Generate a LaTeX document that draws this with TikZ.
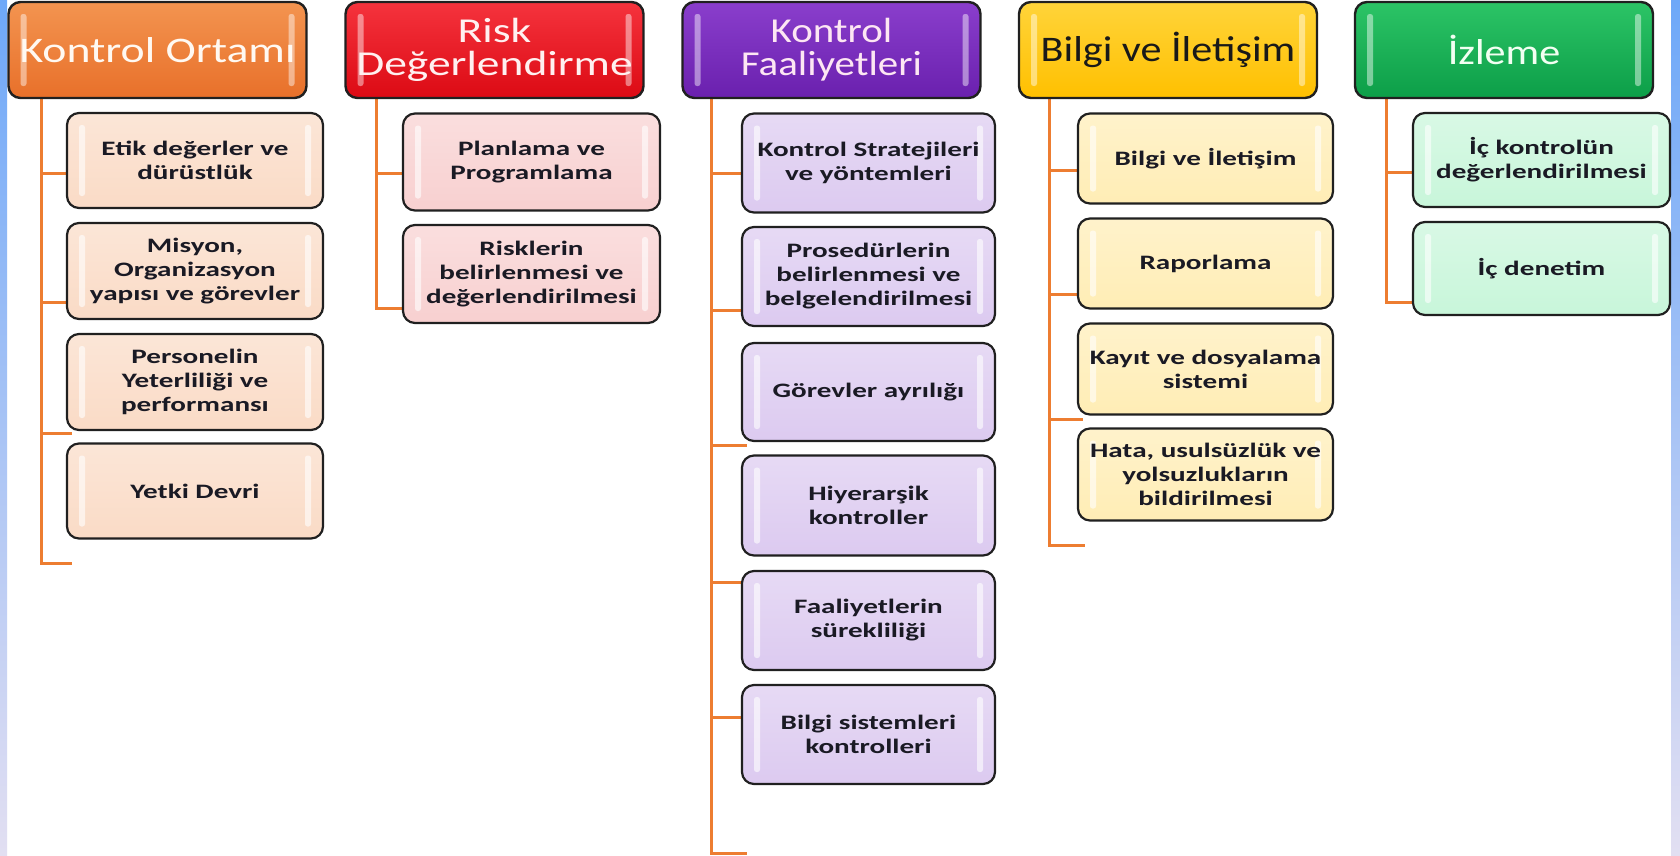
\documentclass[tikz,border=0pt]{standalone}
\usepackage{fontspec}
\setmainfont{Carlito}
\newfontfamily\hdfont[FakeStretch=1.17]{Carlito}
\newfontfamily\hdfontw[FakeStretch=1.3]{Carlito}
\newfontfamily\hdfonto[FakeStretch=1.27]{Carlito}
\newfontfamily\chfont[FakeStretch=1.42]{Carlito}
\definecolor{boxline}{HTML}{202020}
\definecolor{treeor}{HTML}{ED7D31}
\definecolor{txt}{HTML}{1A1A24}
\definecolor{stripA}{HTML}{6EA8F8}
\definecolor{stripB}{HTML}{E2DFF2}
\definecolor{oTop}{HTML}{F39450}
\definecolor{oBot}{HTML}{E8702A}
\definecolor{rTop}{HTML}{F5333D}
\definecolor{rBot}{HTML}{DC0A14}
\definecolor{pTop}{HTML}{8A3ECC}
\definecolor{pBot}{HTML}{6A20AE}
\definecolor{yTop}{HTML}{FFD43A}
\definecolor{yBot}{HTML}{FFC000}
\definecolor{gTop}{HTML}{2CC466}
\definecolor{gBot}{HTML}{0C9E48}
\definecolor{c1}{HTML}{FADBC6}
\definecolor{c2}{HTML}{F8D0D0}
\definecolor{c3}{HTML}{DCCAF0}
\definecolor{c4}{HTML}{FFEDB5}
\definecolor{c5}{HTML}{C8F6DA}
\pgfdeclarelayer{bgz}
\pgfdeclarelayer{lines}
\pgfsetlayers{bgz,lines,main}
\begin{document}
\begin{tikzpicture}[x=1pt,y=-1pt,
  glossbars/.style={path picture={
    \fill[white,opacity=#1,rounded corners=2.5pt] ([xshift=12pt,yshift=-12pt]path picture bounding box.north west) rectangle ([xshift=18pt,yshift=12pt]path picture bounding box.south west);
    \fill[white,opacity=#1,rounded corners=2.5pt] ([xshift=-18pt,yshift=-12pt]path picture bounding box.north east) rectangle ([xshift=-12pt,yshift=12pt]path picture bounding box.south east);}},
  hdr/.style={draw=boxline, line width=2.4pt, rounded corners=12pt, minimum width=298pt, minimum height=96pt, inner sep=1pt, align=center, font=\hdfont\fontsize{35}{33}\selectfont, glossbars=0.45},
  chd/.style={draw=boxline, line width=2.2pt, rounded corners=12pt, inner sep=2pt, align=center, font=\chfont\bfseries\fontsize{20.5}{24}\selectfont, text=txt, glossbars=0.6},
  col1/.style={chd, minimum width=256pt, top color=c1!70!white, bottom color=c1},
  col2/.style={chd, minimum width=257pt, top color=c2!70!white, bottom color=c2},
  col3/.style={chd, minimum width=253pt, top color=c3!70!white, bottom color=c3},
  col4/.style={chd, minimum width=255pt, top color=c4!70!white, bottom color=c4},
  col5/.style={chd, minimum width=257pt, top color=c5!70!white, bottom color=c5},
  tree/.style={draw=treeor, line width=3pt}]
\useasboundingbox (0,0) rectangle (1680,855);
\begin{pgfonlayer}{bgz}
  \fill[white] (0,0) rectangle (1680,855);
  \shade[top color=stripA, bottom color=stripB] (0,0) rectangle (7,855);
  \shade[top color=stripA, bottom color=stripB] (1671,0) rectangle (1680,855);
\end{pgfonlayer}

% headers
\node[hdr, top color=oTop, bottom color=oBot, text=white!95!orange, font=\hdfonto\fontsize{36}{33}\selectfont] (h1) at (157.5,50) {Kontrol Ortamı};
\node[hdr, top color=rTop, bottom color=rBot, text=white!94!red, font=\hdfontw\fontsize{35}{33}\selectfont] (h2) at (494.5,50) {Risk\\Değerlendirme};
\node[hdr, top color=pTop, bottom color=pBot, text=white!90!magenta] (h3) at (831.5,50) {Kontrol\\Faaliyetleri};
\node[hdr, top color=yTop, bottom color=yBot, text=black!90, font=\hdfont\fontsize{36}{33}\selectfont] (h4) at (1168,50) {Bilgi ve İletişim};
\node[hdr, top color=gTop, bottom color=gBot, text=white!95!green, font=\hdfont\fontsize{36}{33}\selectfont] (h5) at (1504,50) {İzleme};

% column 1
\node[col1, minimum height=95pt] (e1) at (195,160.5) {Etik değerler ve\\dürüstlük};
\node[col1, minimum height=96pt] (e2) at (195,271) {Misyon,\\Organizasyon\\yapısı ve görevler};
\node[col1, minimum height=96pt] (e3) at (195,382) {Personelin\\Yeterliliği ve\\performansı};
\node[col1, minimum height=95pt] (e4) at (195,491) {Yetki Devri};
% column 2
\node[col2, minimum height=97pt] (r1) at (531.5,162) {Planlama ve\\Programlama};
\node[col2, minimum height=98pt] (r2) at (531.5,274) {Risklerin\\belirlenmesi ve\\değerlendirilmesi};
% column 3
\node[col3, minimum height=99pt] (k1) at (868.5,163) {Kontrol Stratejileri\\ve yöntemleri};
\node[col3, minimum height=99pt] (k2) at (868.5,276.5) {Prosedürlerin\\belirlenmesi ve\\belgelendirilmesi};
\node[col3, minimum height=98pt] (k3) at (868.5,392) {Görevler ayrılığı};
\node[col3, minimum height=100pt] (k4) at (868.5,505.5) {Hiyerarşik\\kontroller};
\node[col3, minimum height=99pt] (k5) at (868.5,620.5) {Faaliyetlerin\\sürekliliği};
\node[col3, minimum height=99pt] (k6) at (868.5,734.5) {Bilgi sistemleri\\kontrolleri};
% column 4
\node[col4, minimum height=90pt] (b1) at (1205.5,158.5) {Bilgi ve İletişim};
\node[col4, minimum height=90pt] (b2) at (1205.5,263.5) {Raporlama};
\node[col4, minimum height=91pt] (b3) at (1205.5,369) {Kayıt ve dosyalama\\sistemi};
\node[col4, minimum height=92pt] (b4) at (1205.5,474.5) {Hata, usulsüzlük ve\\yolsuzlukların\\bildirilmesi};
% column 5
\node[col5, minimum height=94pt] (i1) at (1541.5,160) {İç kontrolün\\değerlendirilmesi};
\node[col5, minimum height=93pt] (i2) at (1541.5,268.5) {İç denetim};

% tree connectors
\coordinate (t1) at ([xshift=34pt]h1.south west);
\coordinate (t2) at ([xshift=32pt]h2.south west);
\coordinate (t3) at ([xshift=30pt]h3.south west);
\coordinate (t4) at ([xshift=32pt]h4.south west);
\coordinate (t5) at ([xshift=33pt]h5.south west);
\begin{pgfonlayer}{lines}
  \draw[tree] (t1) |- ([xshift=6pt]e4.west |- 0,563);
  \draw[tree] (t1 |- 0,173) -- ([xshift=6pt]e1.west |- 0,173);
  \draw[tree] (t1 |- 0,302) -- ([xshift=6pt]e2.west |- 0,302);
  \draw[tree] (t1 |- 0,433) -- ([xshift=6pt]e3.west |- 0,433);

  \draw[tree] (t2) |- ([xshift=6pt]r2.west |- 0,308);
  \draw[tree] (t2 |- 0,173) -- ([xshift=6pt]r1.west |- 0,173);

  \draw[tree] (t3) |- ([xshift=6pt]k6.west |- 0,853);
  \draw[tree] (t3 |- 0,173) -- ([xshift=6pt]k1.west |- 0,173);
  \draw[tree] (t3 |- 0,310) -- ([xshift=6pt]k2.west |- 0,310);
  \draw[tree] (t3 |- 0,445) -- ([xshift=6pt]k3.west |- 0,445);
  \draw[tree] (t3 |- 0,582) -- ([xshift=6pt]k5.west |- 0,582);
  \draw[tree] (t3 |- 0,717) -- ([xshift=6pt]k6.west |- 0,717);

  \draw[tree] (t4) |- ([xshift=8pt]b4.west |- 0,545);
  \draw[tree] (t4 |- 0,170) -- ([xshift=6pt]b1.west |- 0,170);
  \draw[tree] (t4 |- 0,294) -- ([xshift=6pt]b2.west |- 0,294);
  \draw[tree] (t4 |- 0,419) -- ([xshift=6pt]b3.west |- 0,419);

  \draw[tree] (t5) |- ([xshift=6pt]i2.west |- 0,302);
  \draw[tree] (t5 |- 0,172) -- ([xshift=6pt]i1.west |- 0,172);
\end{pgfonlayer}
\end{tikzpicture}
\end{document}
